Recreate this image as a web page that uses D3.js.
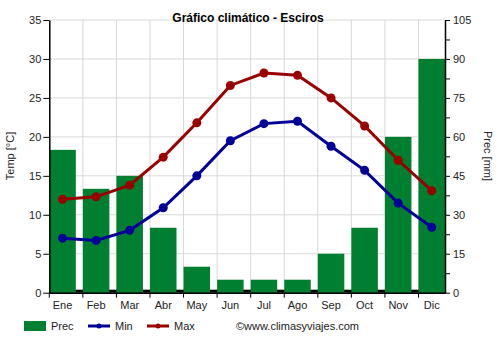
<!DOCTYPE html>
<html><head><meta charset="utf-8">
<script src="https://cdn.jsdelivr.net/npm/d3@7"></script>
<style>body{margin:0;background:#fff}svg{display:block;font-family:"Liberation Sans",Arial,sans-serif}</style>
</head><body><svg id="c" width="500" height="350"></svg>
<script>
const months = ["Ene","Feb","Mar","Abr","May","Jun","Jul","Ago","Sep","Oct","Nov","Dic"];
const prec = [55,40,45,25,10,5,5,5,15,25,60,90];
const tMin = [7.0,6.7,8.0,10.9,15.0,19.5,21.7,22.0,18.8,15.7,11.5,8.4];
const tMax = [12.0,12.3,13.8,17.4,21.8,26.6,28.2,27.9,25.0,21.4,17.0,13.1];
const tempTicks = [0,5,10,15,20,25,30,35];
const precTicks = [0,15,30,45,60,75,90,105];

const svg = d3.select("#c");
const L = 49.3, R = 445, T = 20, B = 292.7;
const x = d3.scaleBand().domain(months).range([L, R]).paddingInner(0.21).paddingOuter(0).align(0);
const cx = m => x(m) + x.bandwidth()/2;
const yT = d3.scaleLinear().domain([0,35]).range([B,T]);
const yP = d3.scaleLinear().domain([0,105]).range([B,T]);

// grid
const g = svg.append("g");
tempTicks.forEach(t => g.append("line").attr("x1",L).attr("x2",R).attr("y1",yT(t)).attr("y2",yT(t)).attr("stroke","#d9d9d9").attr("stroke-width",1));
months.slice(1).forEach(m => g.append("line").attr("x1",x(m)).attr("x2",x(m)).attr("y1",T).attr("y2",B).attr("stroke","#d9d9d9").attr("stroke-width",1));

// zero black line
svg.append("rect").attr("x",L).attr("y",B-3).attr("width",R-L).attr("height",3).attr("fill","#000");

// bars
svg.selectAll("rect.bar").data(prec).enter().append("rect").attr("class","bar")
  .attr("x",(d,i)=>x(months[i])).attr("width",x.bandwidth())
  .attr("y",d=>yP(d)).attr("height",d=>yP(0)-yP(d)).attr("fill","#007f30");

// axes
const axL = d3.axisLeft(yT).tickValues(tempTicks).tickSize(6).tickSizeOuter(0);
const gl = svg.append("g").attr("transform",`translate(${L},0)`).call(axL);
const axR = d3.axisRight(yP).tickValues(d3.range(0,106,7.5)).tickSize(5).tickSizeOuter(0)
  .tickFormat(d => d % 15 === 0 ? d : "");
const gr = svg.append("g").attr("transform",`translate(${R},0)`).call(axR);
const axB = d3.axisBottom(x).tickSize(0).tickSizeOuter(0);
const gb = svg.append("g").attr("transform",`translate(0,${B})`).call(axB);
[gl,gr,gb].forEach(a=>{a.select(".domain").attr("stroke","#000").attr("stroke-width",1.5);a.selectAll("line").attr("stroke","#000");a.selectAll("text").attr("fill","#222").attr("font-size",11).attr("font-family","Liberation Sans, Arial, sans-serif");});
gl.selectAll("text").attr("x",-8);
gr.selectAll("text").attr("x",8);
gb.selectAll("text").attr("dy","0.95em").attr("y",6);
// bottom ticks at band starts
months.forEach(m => svg.append("line").attr("x1",x(m)).attr("x2",x(m)).attr("y1",B).attr("y2",B+5).attr("stroke","#000"));

// lines
const line = d3.line().x((d,i)=>cx(months[i])).y(d=>yT(d));
function series(data,color){
  svg.append("path").datum(data).attr("d",line).attr("fill","none").attr("stroke",color).attr("stroke-width",3);
  svg.selectAll(null).data(data).enter().append("circle").attr("cx",(d,i)=>cx(months[i])).attr("cy",d=>yT(d)).attr("r",4.5).attr("fill",color);
}
series(tMin,"#000099");
series(tMax,"#990000");

// titles
svg.append("text").attr("x",248).attr("y",22).attr("text-anchor","middle").attr("font-size",12).attr("font-weight","bold").attr("fill","#000").text("Gráfico climático - Esciros");
svg.append("text").attr("transform",`translate(14,156) rotate(-90)`).attr("text-anchor","middle").attr("font-size",11).attr("fill","#222").text("Temp [°C]");
svg.append("text").attr("transform",`translate(484,156) rotate(90)`).attr("text-anchor","middle").attr("font-size",11).attr("fill","#222").text("Prec [mm]");

// legend
const ly = 326;
svg.append("rect").attr("x",24).attr("y",ly-5).attr("width",22).attr("height",10).attr("fill","#007f30");
svg.append("text").attr("x",51).attr("y",ly+4).attr("font-size",11).attr("fill","#222").text("Prec");
[["Min","#000099",88],["Max","#990000",147]].forEach(([n,c,lx])=>{
  svg.append("line").attr("x1",lx).attr("x2",lx+22).attr("y1",ly).attr("y2",ly).attr("stroke",c).attr("stroke-width",3);
  svg.append("circle").attr("cx",lx+11).attr("cy",ly).attr("r",2.5).attr("fill",c);
  svg.append("text").attr("x",lx+27).attr("y",ly+4).attr("font-size",11).attr("fill","#222").text(n);
});
svg.append("text").attr("x",236).attr("y",ly+4).attr("font-size",11).attr("fill","#222").text("©www.climasyviajes.com");
</script></body></html>
